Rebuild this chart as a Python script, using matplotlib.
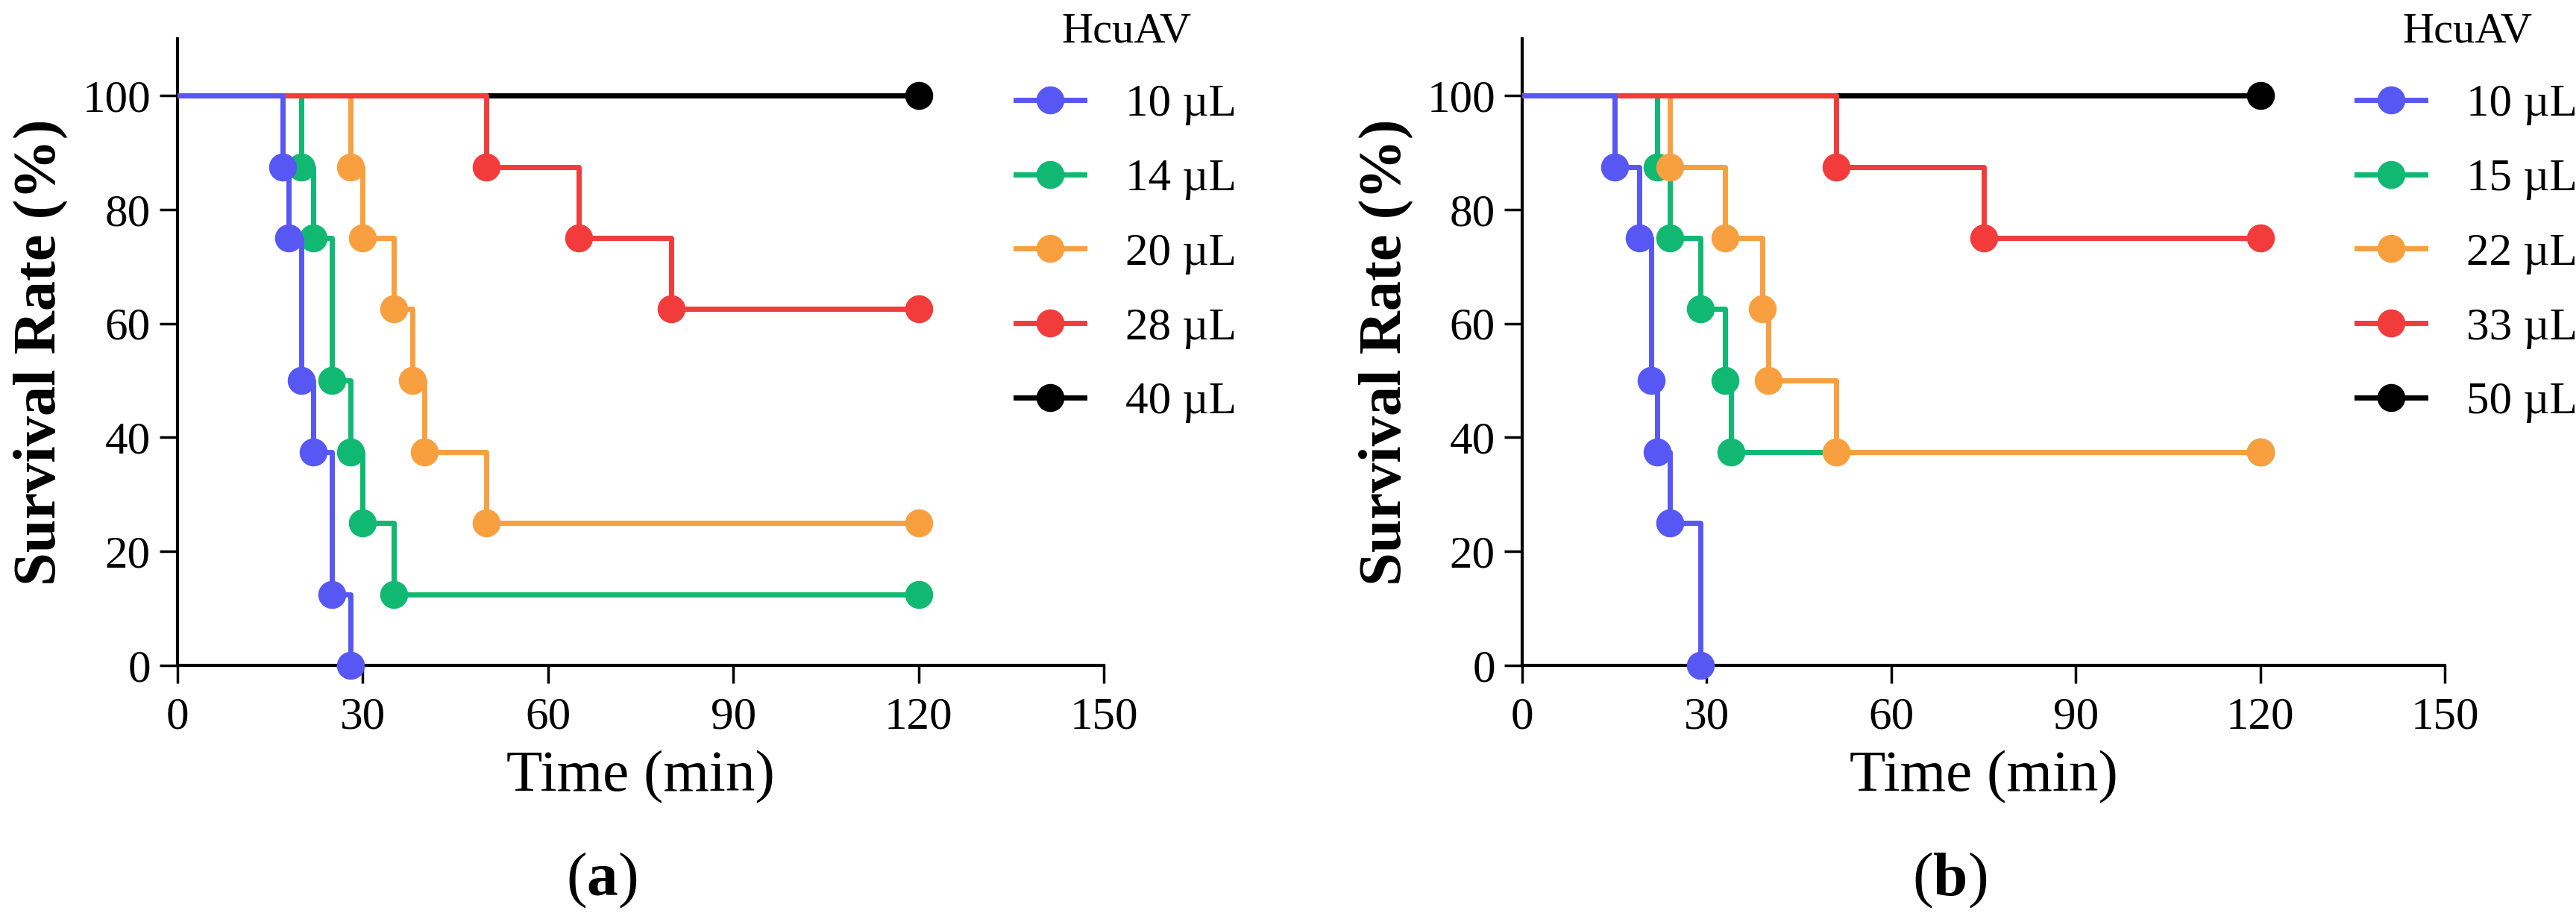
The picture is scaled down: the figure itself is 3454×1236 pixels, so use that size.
import matplotlib
matplotlib.use("Agg")
import matplotlib.pyplot as plt
from matplotlib.lines import Line2D

plt.rcParams['font.family'] = ['Liberation Serif', 'DejaVu Serif']
plt.rcParams['mathtext.fontset'] = 'custom'
plt.rcParams['mathtext.rm'] = 'Liberation Serif'
plt.rcParams['mathtext.bf'] = 'Liberation Serif:bold'

# ---------------- data ----------------
end_time = 120
colors = ['#5757F4', '#10B872', '#F8A040', '#F23C3C', '#000000']
zorders = [7, 4, 5, 6, 3]

# panel (a)
labels_a = ['10 µL', '14 µL', '20 µL', '28 µL', '40 µL']
times_a = [
    [17, 18, 20, 22, 25, 28],
    [20, 22, 25, 28, 30, 35],
    [28, 30, 35, 38, 40, 50],
    [50, 65, 80],
    [],
]
surv_a = [
    [87.5, 75, 50, 37.5, 12.5, 0],
    [87.5, 75, 50, 37.5, 25, 12.5],
    [87.5, 75, 62.5, 50, 37.5, 25],
    [87.5, 75, 62.5],
    [],
]

# panel (b)
labels_b = ['10 µL', '15 µL', '22 µL', '33 µL', '50 µL']
times_b = [
    [15, 19, 21, 22, 24, 29],
    [22, 24, 29, 33, 34],
    [24, 33, 39, 40, 51],
    [51, 75],
    [],
]
surv_b = [
    [87.5, 75, 50, 37.5, 25, 0],
    [87.5, 75, 62.5, 50, 37.5],
    [87.5, 75, 62.5, 50, 37.5],
    [87.5, 75],
    [],
]

xticks = [0, 30, 60, 90, 120, 150]
yticks = [0, 20, 40, 60, 80, 100]

# ---------------- style ----------------
W, H = 3455, 1236
DPI = 100
LW = 5
MS = 26
FONT_TICK = 44
FONT_LABEL_Y = 58
FONT_LABEL_X = 57
FONT_LEG = 44
FONT_LEG_TITLE = 42

fig = plt.figure(figsize=(W / DPI, H / DPI), dpi=DPI)


def px_axes(x0, x1, y0=892, ytop=51.6):
    return [x0 / W, (H - y0) / H, (x1 - x0) / W, (y0 - ytop) / H]


def draw_panel(ax, times, surv, labels, leg_anchor):
    for t, s, c, z in zip(times, surv, colors, zorders):
        xs = [0] + list(t)
        ys = [100] + list(s)
        last = ys[-1]
        if last > 0:
            xs.append(end_time)
            ys.append(last)
        ax.plot(xs, ys, drawstyle='steps-post', color=c, lw=LW,
                zorder=z, clip_on=False, solid_capstyle='butt')
        mx = list(t) + ([end_time] if last > 0 else [])
        my = list(s) + ([last] if last > 0 else [])
        ax.plot(mx, my, ls='none', marker='o', ms=MS, color=c,
                mec=c, zorder=z, clip_on=False)

    ax.set_xlim(0, 150)
    ax.set_ylim(0, 110)
    ax.set_xticks(xticks)
    ax.set_yticks(yticks)
    for side in ['top', 'right']:
        ax.spines[side].set_visible(False)
    for side in ['left', 'bottom']:
        ax.spines[side].set_linewidth(3)
    ax.tick_params(axis='both', direction='out', length=17, width=2.5,
                   labelsize=FONT_TICK)
    ax.tick_params(axis='x', pad=13)
    ax.tick_params(axis='y', pad=9)
    ax.set_ylabel('Survival Rate (%)', fontsize=FONT_LABEL_Y,
                  fontweight='bold')
    ax.yaxis.set_label_coords(-0.118, 0.5)
    ax.set_xlabel('Time (min)', fontsize=FONT_LABEL_X)
    ax.xaxis.set_label_coords(0.5, -0.135)

    handles = [Line2D([0], [0], color=c, lw=LW, marker='o', ms=MS)
               for c in colors]
    leg = ax.legend(handles, labels, title='HcuAV', loc='upper left',
                    bbox_to_anchor=leg_anchor,
                    bbox_transform=fig.transFigure, frameon=False,
                    prop={'family': 'Liberation Serif', 'size': FONT_LEG},
                    title_fontproperties={'family': 'Liberation Serif',
                                          'size': FONT_LEG_TITLE},
                    handlelength=1.5, handletextpad=0.9,
                    labelspacing=0.72, borderpad=0.4, borderaxespad=0)
    return leg


axA = fig.add_axes(px_axes(238, 1480))
axB = fig.add_axes(px_axes(2041, 3278))

draw_panel(axA, times_a, surv_a, labels_a,
           ((1362 - 24) / W, 1 + 8 / H))
draw_panel(axB, times_b, surv_b, labels_b,
           ((3160 - 24) / W, 1 + 8 / H))

fig.text(807 / W, 1 - 1180 / H, r'($\mathbf{a}$)', fontsize=60,
         ha='center', va='center')
fig.text(2614 / W, 1 - 1180 / H, r'($\mathbf{b}$)', fontsize=60,
         ha='center', va='center')

fig.savefig('out.png', dpi=DPI)
